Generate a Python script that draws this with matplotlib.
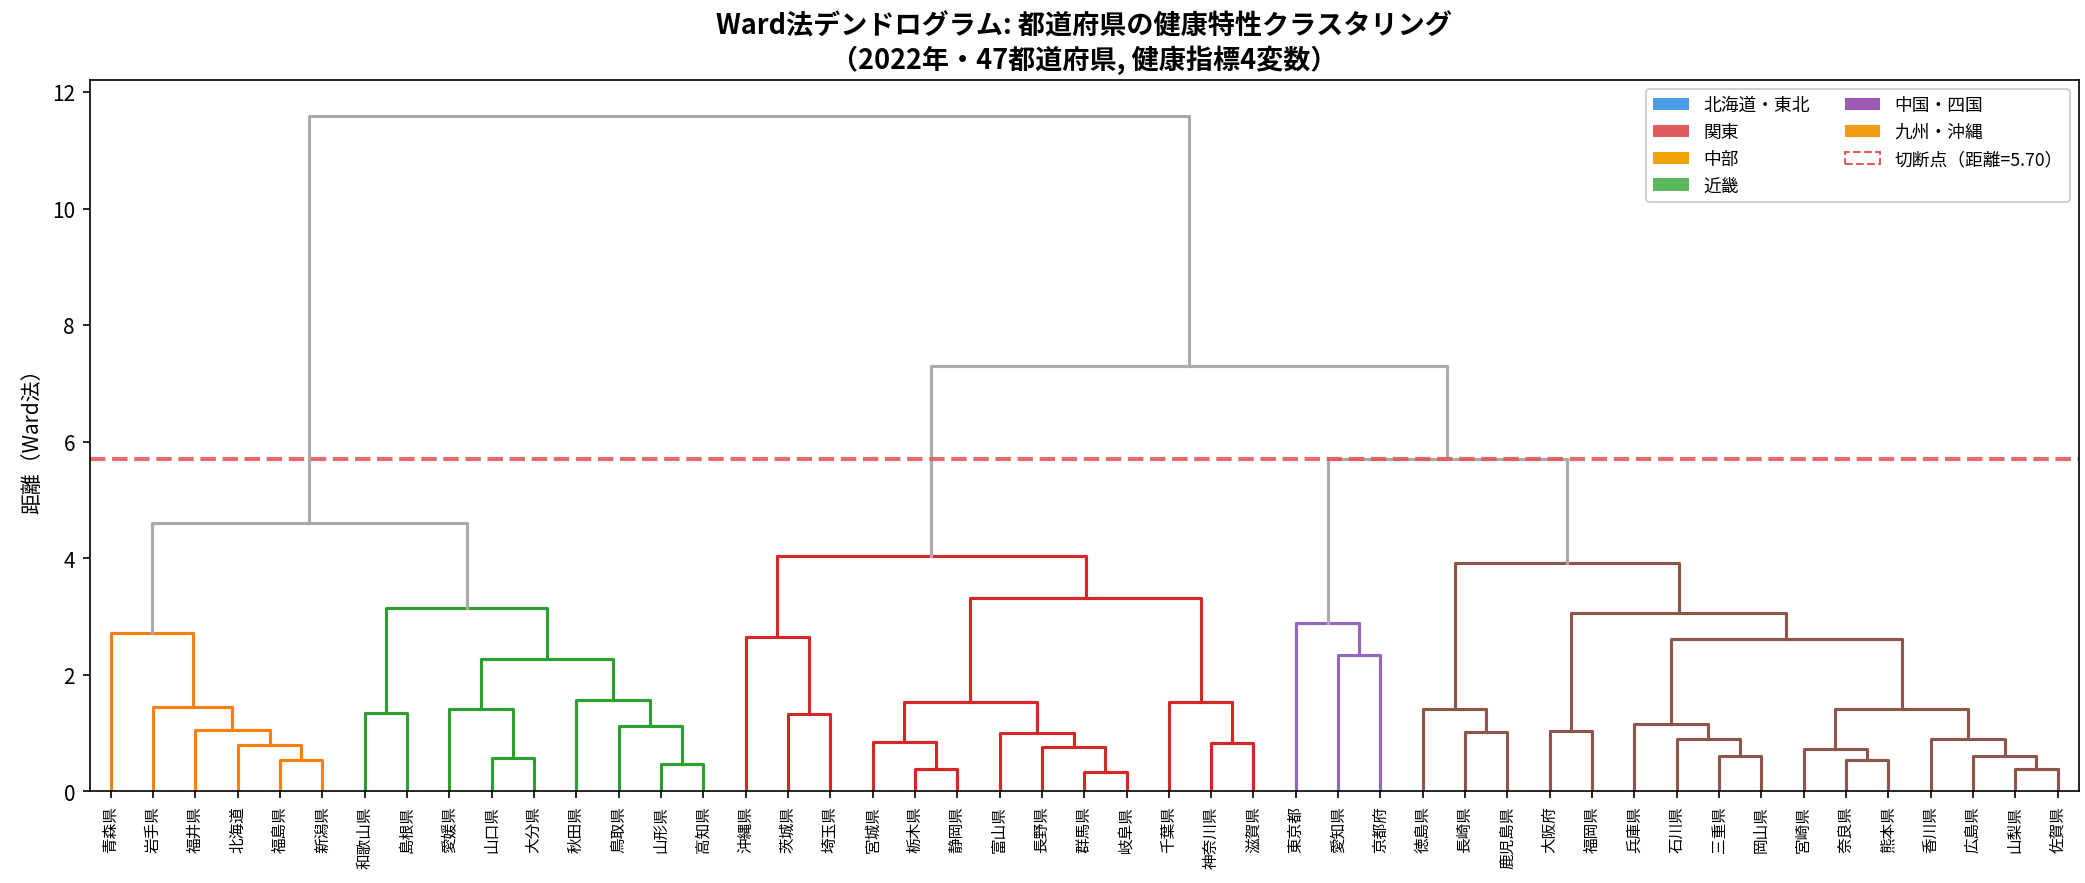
import matplotlib
matplotlib.use("Agg")
import matplotlib.pyplot as plt
from matplotlib.patches import Patch

plt.rcParams['font.family'] = ['Noto Sans CJK JP', 'DejaVu Sans']

# leaves in dendrogram order
leaves = ["青森県", "岩手県", "福井県", "北海道", "福島県", "新潟県",
          "和歌山県", "島根県", "愛媛県", "山口県", "大分県", "秋田県", "鳥取県", "山形県", "高知県",
          "沖縄県", "茨城県", "埼玉県", "宮城県", "栃木県", "静岡県", "富山県", "長野県", "群馬県",
          "岐阜県", "千葉県", "神奈川県", "滋賀県",
          "東京都", "愛知県", "京都府",
          "徳島県", "長崎県", "鹿児島県", "大阪府", "福岡県", "兵庫県", "石川県", "三重県", "岡山県",
          "宮崎県", "奈良県", "熊本県", "香川県", "広島県", "山梨県", "佐賀県"]
# cluster of each leaf (cut at 5.70)
leaf_cluster = [0] * 6 + [1] * 9 + [2] * 13 + [3] * 3 + [4] * 16
cluster_colors = ["#ff7f0e", "#2ca02c", "#d62728", "#9467bd", "#8c564b"]
above_color = "#aaaaaa"

# linkage: new node id = 47 + row index
merge_a = [4, 3, 2, 1, 0, 6, 9, 8, 13, 12, 11, 54, 52, 51,
           16, 15, 19, 18, 23, 22, 21, 64, 26, 25, 68, 62,
           29, 28,
           32, 31, 34, 38, 37, 36, 41, 40, 45, 44, 43, 82, 80, 77, 76,
           74, 72, 60]
merge_b = [5, 47, 48, 49, 50, 7, 10, 53, 14, 55, 56, 57, 58, 59,
           17, 61, 20, 63, 24, 65, 66, 67, 27, 69, 70, 71,
           30, 73,
           33, 75, 35, 39, 78, 79, 42, 81, 46, 83, 84, 85, 86, 87, 88,
           89, 90, 91]
merge_h = [0.53, 0.79, 1.05, 1.45, 2.71, 1.34, 0.56, 1.41, 0.47, 1.12, 1.57, 2.26, 3.14, 4.61,
           1.32, 2.64, 0.38, 0.85, 0.32, 0.75, 0.99, 1.53, 0.82, 1.53, 3.31, 4.04,
           2.34, 2.88,
           1.01, 1.41, 1.03, 0.60, 0.89, 1.15, 0.53, 0.73, 0.38, 0.60, 0.89, 1.41, 2.61, 3.05, 3.92,
           5.695, 7.29, 11.59]
cut_height = 5.70

legend_labels = ["北海道・東北", "関東", "中部", "近畿", "中国・四国", "九州・沖縄"]
legend_colors = ["#4c9be8", "#e05c5c", "#f0a30a", "#5cb85c", "#9b59b6", "#f39c12"]

n = len(leaves)
pos_x = {i: 5 + 10 * i for i in range(n)}
pos_h = {i: 0.0 for i in range(n)}
members = {i: {leaf_cluster[i]} for i in range(n)}

fig, ax = plt.subplots(figsize=(13.9, 5.893), dpi=150)
fig.subplots_adjust(left=0.043, right=0.997, top=0.908, bottom=0.104)

for k, (a, b, h) in enumerate(zip(merge_a, merge_b, merge_h)):
    node = n + k
    members[node] = members[a] | members[b]
    if len(members[node]) == 1:
        col = cluster_colors[next(iter(members[node]))]
    else:
        col = above_color
    ax.plot([pos_x[a], pos_x[a], pos_x[b], pos_x[b]],
            [pos_h[a], h, h, pos_h[b]], color=col, lw=1.5)
    pos_x[node] = (pos_x[a] + pos_x[b]) / 2
    pos_h[node] = h

ax.axhline(cut_height, color="#e05c5c", ls="--", lw=2, alpha=0.9)

ax.set_xlim(0, 10 * n)
ax.set_ylim(0, 12.2)
ax.set_xticks([5 + 10 * i for i in range(n)])
ax.set_xticklabels(leaves, rotation=90, fontsize=7.5)
for i, t in enumerate(ax.xaxis.get_major_ticks()):
    t.tick1line.set_color(cluster_colors[leaf_cluster[i]])
ax.set_yticks(range(0, 13, 2))
ax.tick_params(axis="y", labelsize=10)
ax.set_ylabel("距離（Ward法）", fontsize=10)
ax.set_title("Ward法デンドログラム: 都道府県の健康特性クラスタリング\n（2022年・47都道府県, 健康指標4変数）",
             fontsize=13, fontweight="bold")

handles = [Patch(facecolor=c, label=l) for l, c in zip(legend_labels, legend_colors)]
handles.append(Patch(facecolor="none", edgecolor="#e05c5c", linestyle="--",
                     label=f"切断点（距離={cut_height:.2f}）"))
ax.legend(handles=handles, loc="upper right", ncol=2, fontsize=8.5, framealpha=0.9)

fig.savefig("out.png", dpi=150)
